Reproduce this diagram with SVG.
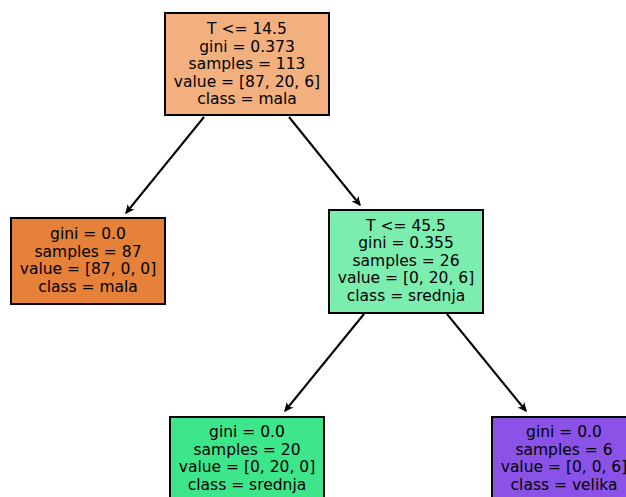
<svg xmlns="http://www.w3.org/2000/svg" width="626" height="497" viewBox="0 0 626 497">
<style>
.box{stroke:#000;stroke-width:2}
text{font-family:"DejaVu Sans",sans-serif;font-size:15.5px;fill:#000;text-anchor:middle}
.edge{stroke:#000;stroke-width:2;fill:none}
</style>
<defs>
<marker id="arr" viewBox="0 0 10 10" refX="9" refY="5" markerWidth="9" markerHeight="9" orient="auto" markerUnits="userSpaceOnUse">
<path d="M1.5,1.5 L9,5 L1.5,8.5 L3.5,5 Z" fill="#000" stroke="#000" stroke-width="1.2" stroke-linejoin="miter"/>
</marker>
</defs>
<rect width="626" height="497" fill="#fff"/>
<g id="edges">
<line class="edge" x1="204" y1="117" x2="126" y2="213" marker-end="url(#arr)"/>
<line class="edge" x1="289" y1="117" x2="360" y2="205" marker-end="url(#arr)"/>
<line class="edge" x1="364" y1="314" x2="285" y2="411" marker-end="url(#arr)"/>
<line class="edge" x1="447" y1="314" x2="526" y2="411" marker-end="url(#arr)"/>
</g>
<g id="node0">
<rect class="box" x="165" y="13" width="164" height="102" fill="#f1b07e"/>
<text x="247" y="34">T &lt;= 14.5</text>
<text x="247" y="51.5">gini = 0.373</text>
<text x="247" y="69">samples = 113</text>
<text x="247" y="86.5">value = [87, 20, 6]</text>
<text x="247" y="104">class = mala</text>
</g>
<g id="node1">
<rect class="box" x="11" y="218" width="154" height="86" fill="#e58139"/>
<text x="88" y="239">gini = 0.0</text>
<text x="88" y="256.5">samples = 87</text>
<text x="88" y="274">value = [87, 0, 0]</text>
<text x="88" y="291.5">class = mala</text>
</g>
<g id="node2">
<rect class="box" x="329" y="210" width="154" height="103" fill="#7beeaf"/>
<text x="406" y="230.5">T &lt;= 45.5</text>
<text x="406" y="248">gini = 0.355</text>
<text x="406" y="265.5">samples = 26</text>
<text x="406" y="283">value = [0, 20, 6]</text>
<text x="406" y="300.5">class = srednja</text>
</g>
<g id="node3">
<rect class="box" x="170" y="417" width="154" height="90" fill="#3ee68b"/>
<text x="247" y="437">gini = 0.0</text>
<text x="247" y="454.5">samples = 20</text>
<text x="247" y="472">value = [0, 20, 0]</text>
<text x="247" y="489.5">class = srednja</text>
</g>
<g id="node4">
<rect class="box" x="492" y="417" width="146" height="90" fill="#8b52e8"/>
<text x="564" y="437">gini = 0.0</text>
<text x="564" y="454.5">samples = 6</text>
<text x="564" y="472">value = [0, 0, 6]</text>
<text x="564" y="489.5">class = velika</text>
</g>
</svg>
